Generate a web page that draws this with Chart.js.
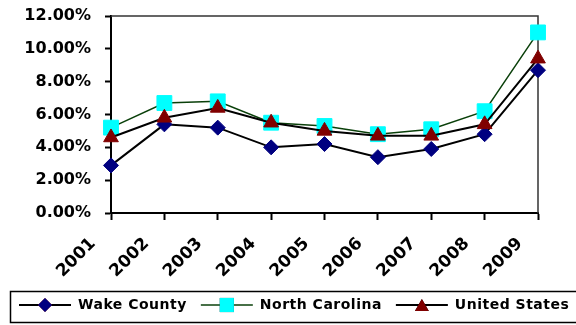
<!DOCTYPE html>
<html>
<head>
<meta charset="utf-8">
<script src="https://cdn.jsdelivr.net/npm/chart.js@4/dist/chart.umd.min.js"></script>
<style>
  html, body { margin: 0; padding: 0; background: #fff; }
  canvas { display: block; }
</style>
</head>
<body>
<canvas id="chart" width="576" height="325"></canvas>
<script>
// Unemployment rate by year (percent)
const years = ['2001', '2002', '2003', '2004', '2005', '2006', '2007', '2008', '2009'];
const wakeCounty = [2.9, 5.4, 5.2, 4.0, 4.2, 3.4, 3.9, 4.8, 8.7];
const northCarolina = [5.2, 6.7, 6.8, 5.5, 5.3, 4.8, 5.1, 6.2, 11.0];
const unitedStates = [4.6, 5.8, 6.4, 5.5, 5.0, 4.7, 4.7, 5.4, 9.4];
const yTickValues = [0, 2, 4, 6, 8, 10, 12];
const seriesNames = ['Wake County', 'North Carolina', 'United States'];

const FONT = "'DejaVu Sans', Verdana, sans-serif";

// Thin top and right edges of the plot frame
const framePlugin = {
  id: 'frame',
  beforeDatasetsDraw(chart) {
    const { ctx, chartArea: a } = chart;
    ctx.save();
    ctx.strokeStyle = '#333';
    ctx.lineWidth = 1.5;
    ctx.beginPath();
    ctx.moveTo(a.left, a.top);
    ctx.lineTo(a.right, a.top);
    ctx.lineTo(a.right, a.bottom);
    ctx.stroke();
    ctx.restore();
  }
};

// Year labels set diagonally below each category tick of the x scale
const slantedYearsPlugin = {
  id: 'slantedYears',
  afterDraw(chart) {
    const ctx = chart.ctx;
    const xs = chart.scales.x;
    ctx.save();
    ctx.font = 'bold 17px ' + FONT;
    ctx.fillStyle = '#000';
    ctx.textAlign = 'right';
    ctx.textBaseline = 'middle';
    xs.ticks.forEach((tick, i) => {
      const px = xs.getPixelForTick(i);
      ctx.save();
      ctx.translate(px - 18, xs.top + 28);
      ctx.rotate(-Math.PI / 4);
      ctx.fillText(xs.getLabelForValue(tick.value), 0, 0);
      ctx.restore();
    });
    ctx.restore();
  }
};

// Boxed legend with line-and-marker samples
const boxLegendPlugin = {
  id: 'boxLegend',
  afterDraw(chart) {
    const ctx = chart.ctx;
    const top = 291, height = 31, cy = 305;
    ctx.save();
    ctx.letterSpacing = '0.5px';
    ctx.font = 'bold 14px ' + FONT;
    ctx.strokeStyle = '#000';
    ctx.lineWidth = 1.5;
    ctx.strokeRect(10.5, top + 0.5, 580, height);
    let x = 19;
    chart.data.datasets.forEach((ds) => {
      const lineLen = 52;
      ctx.strokeStyle = ds.borderColor;
      ctx.lineWidth = ds.borderWidth;
      ctx.beginPath();
      ctx.moveTo(x, cy);
      ctx.lineTo(x + lineLen, cy);
      ctx.stroke();
      Chart.helpers.drawPoint(ctx, {
        pointStyle: ds.pointStyle,
        radius: ds.legendRadius,
        rotation: 0,
        borderWidth: 0
      }, x + lineLen / 2, cy + (ds.pointStyle === 'triangle' ? 2 : 0));
      ctx.fillStyle = ds.pointBackgroundColor;
      ctx.fill();
      ctx.fillStyle = '#000';
      ctx.textAlign = 'left';
      ctx.textBaseline = 'middle';
      const tx = x + lineLen + 7;
      ctx.fillText(ds.label, tx, cy);
      x = tx + ctx.measureText(ds.label).width + 14;
    });
    ctx.restore();
  }
};

new Chart(document.getElementById('chart'), {
  type: 'line',
  data: {
    labels: years,
    datasets: [
      {
        label: seriesNames[0],
        data: wakeCounty,
        borderColor: '#000000',
        borderWidth: 2,
        pointStyle: 'rectRot',
        pointRadius: 7.5,
        legendRadius: 7,
        pointBackgroundColor: '#000080',
        pointBorderColor: '#000080',
        pointBorderWidth: 1,
        order: 3
      },
      {
        label: seriesNames[1],
        data: northCarolina,
        borderColor: '#0a400a',
        borderWidth: 1.5,
        pointStyle: 'rect',
        pointRadius: 10.5,
        legendRadius: 10,
        pointBackgroundColor: '#00ffff',
        pointBorderColor: '#00ffff',
        pointBorderWidth: 1,
        order: 2
      },
      {
        label: seriesNames[2],
        data: unitedStates,
        borderColor: '#000000',
        borderWidth: 2,
        pointStyle: 'triangle',
        pointRadius: 8.5,
        legendRadius: 8,
        pointBackgroundColor: '#800000',
        pointBorderColor: '#800000',
        pointBorderWidth: 1,
        order: 1
      }
    ]
  },
  options: {
    responsive: false,
    animation: false,
    events: [],
    clip: false,
    layout: { padding: { top: 16, right: 38, bottom: 0, left: 0 } },
    elements: { line: { tension: 0 } },
    plugins: {
      legend: { display: false },
      tooltip: { enabled: false }
    },
    scales: {
      x: {
        offset: false,
        grid: {
          display: true,
          drawOnChartArea: false,
          drawTicks: true,
          tickLength: 7,
          tickColor: '#000',
          tickWidth: 2
        },
        border: { display: true, color: '#000', width: 2 },
        ticks: { display: false, autoSkip: false },
        afterFit(scale) {
          scale.height = 112;
          scale.paddingLeft = 0;
          scale.paddingRight = 0;
        }
      },
      y: {
        min: 0,
        max: 12,
        grid: {
          display: true,
          drawOnChartArea: false,
          drawTicks: true,
          tickLength: 6,
          tickColor: '#000',
          tickWidth: 2
        },
        border: { display: true, color: '#000', width: 2 },
        afterBuildTicks(scale) {
          scale.ticks = yTickValues.map((v) => ({ value: v }));
        },
        ticks: {
          color: '#000',
          font: { family: FONT, size: 16, weight: 'bold' },
          padding: 14,
          callback: (v) => Number(v).toFixed(2) + '%'
        },
        afterFit(scale) {
          scale.width = 111;
          scale.paddingTop = 0;
          scale.paddingBottom = 0;
        }
      }
    }
  },
  plugins: [framePlugin, slantedYearsPlugin, boxLegendPlugin]
});
</script>
</body>
</html>
